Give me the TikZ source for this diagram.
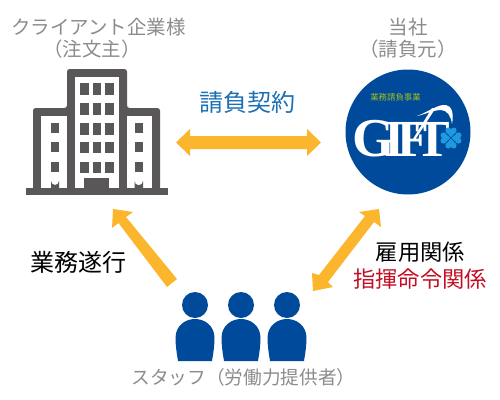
\documentclass[tikz,border=0pt]{standalone}
\usepackage{fontspec}
\setmainfont{Noto Sans CJK JP}
\newfontfamily\logoserif{Liberation Serif}
\definecolor{graytxt}{HTML}{8C8C8C}
\definecolor{bldg}{HTML}{595757}
\definecolor{navy}{HTML}{004A9B}
\definecolor{arrowy}{HTML}{FBB62D}
\definecolor{bluetxt}{HTML}{1B6FB5}
\definecolor{redtxt}{HTML}{C30D23}
\definecolor{clover}{HTML}{1E9BE0}
\definecolor{leaf}{HTML}{9DBB1E}
\tikzset{
  x=.75pt,y=-.75pt,
  lab/.style={inner sep=0pt,font=\fontsize{#1}{#1}\selectfont},
  graylab/.style={lab=#1,text=graytxt},
  win/.style={fill=bldg,draw=none},
  yarrow/.style={fill=arrowy,draw=none},
  giftl/.style={inner sep=0pt,text=white,font=\logoserif\bfseries\fontsize{#1}{#1}\selectfont},
}
\begin{document}
\begin{tikzpicture}
\useasboundingbox (0,0) rectangle (500,400);
% labels
\node[graylab=14.6] (client) at (98.5,27) {クライアント企業様};
\node[graylab=14.6] (clientb) at (92,49) {（注文主）};
\node[graylab=14.6] (us) at (408,27) {当社};
\node[graylab=14.6] (usb) at (408,49) {（請負元）};
\node[graylab=14] (staff) at (243.5,377) {スタッフ（労働力提供者）};
\node[lab=18,text=bluetxt] (contract) at (247.5,102) {請負契約};
\node[lab=18,text=black] (work) at (78,262) {業務遂行};
\node[lab=16.7,text=black] (emp) at (420.5,252) {雇用関係};
\node[lab=16.7,text=redtxt] (cmd) at (420,279) {指揮命令関係};
% building
\fill[bldg,rounded corners=2pt] (67,108) -- (67,69) -- (127,69) -- (127,108) -- (160,108) -- (160,190) -- (33,190) -- (33,108) -- cycle;
\fill[bldg] (26,188) rectangle (168,195);
\fill[white] (75,77) rectangle (119,188);
\fill[white] (41,116) rectangle (67,188);
\fill[white] (127,116) rectangle (152,188);
\foreach \y/\h in {83/12,103/11.5,123/11.5,142/11,162/11}{
  \foreach \x/\w in {80/8.5,92.5/8.5,105/9}{
    \fill[win] (\x,\y) rectangle ++(\w,\h);
  }
}
\foreach \y in {123,142,162}{
  \fill[win] (51,\y) rectangle ++(8,10);
  \fill[win] (134.5,\y) rectangle ++(8.5,10);
}
\fill[win] (84,178) rectangle (109,188);
\fill[win] (51,188) -- (51,181) arc[start angle=180,end angle=0,radius=4] -- (59,188) -- cycle;
\fill[win] (134.5,188) -- (134.5,181) arc[start angle=180,end angle=0,radius=4.25] -- (143,188) -- cycle;
% logo
\fill[navy] (408,132) circle[radius=62.5];
\node[inner sep=0pt,text=leaf,font=\fontsize{6.3}{6.3}\selectfont] (tag) at (395.5,97) {業務請負事業};
\node[giftl=41] (g) at (374,138.5) {G};
\node[giftl=39] (i) at (395,139) {I};
\node[giftl=39] (f) at (413,139) {F};
\node[giftl=39] (t) at (433,139) {T};
\fill[white] (417,116) .. controls (428,112) and (438,104) .. (446,105) .. controls (452,106) and (454,114) .. (452,124) .. controls (451,116) and (447,110) .. (441,110) .. controls (434,110) and (426,114) .. (417,116) -- cycle;
\fill[white] (432,108) -- (435,109) -- (415,140) -- (413,139) -- cycle;
\foreach \a in {0,90,180,270}{
  \begin{scope}[shift={(451,138)},rotate=\a]
    \fill[clover] (-2.7,-7.6) circle[radius=2.9];
    \fill[clover] (2.7,-7.6) circle[radius=2.9];
    \fill[clover] (0,-.6) -- (-5.4,-6.4) -- (0,-7.5) -- (5.4,-6.4) -- cycle;
  \end{scope}
}
% people
\foreach \c/\n in {195/a,241/b,287/c}{
  \fill[navy] (\c,305) circle[radius=13];
  \fill[navy] (\c-17,361) .. controls (\c-18.5,352) and (\c-19.5,345) .. (\c-19.5,338) .. controls (\c-19.5,326) and (\c-10,319) .. (\c,319) .. controls (\c+10,319) and (\c+19.5,326) .. (\c+19.5,338) .. controls (\c+19.5,345) and (\c+18.5,352) .. (\c+17,361) -- cycle;
}
% arrows
\fill[yarrow] (176,142.5) -- (190,129) -- (190,136) -- (307,136) -- (307,129) -- (321,142.5) -- (307,156) -- (307,149) -- (190,149) -- (190,156) -- cycle;
\fill[yarrow] (113,209) -- (133,212) -- (126,217) -- (177,279) -- (167,287) -- (118.5,223) -- (112,228) -- cycle;
\fill[yarrow] (379,209) -- (381,227) -- (374,222) -- (328,282) -- (333,287) -- (313,291) -- (312,273) -- (319,275) -- (365,216) -- (359,212) -- cycle;
\end{tikzpicture}
\end{document}
